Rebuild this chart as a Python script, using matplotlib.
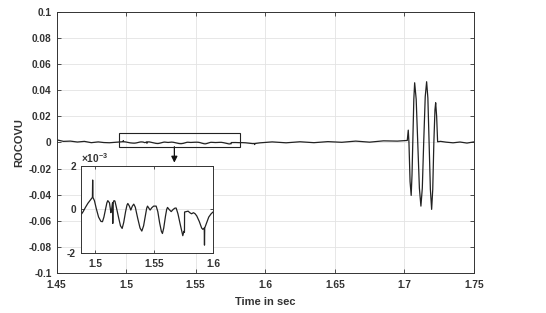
import numpy as np
import matplotlib
matplotlib.use("Agg")
import matplotlib.pyplot as plt
from matplotlib.patches import Rectangle

plt.rcParams['font.family'] = ['Liberation Sans', 'DejaVu Sans']
plt.rcParams['font.weight'] = 'bold'
plt.rcParams['mathtext.default'] = 'regular'

# ---- data ----
t_pre = [1.450, 1.455, 1.460, 1.465, 1.470, 1.475, 1.480, 1.484]
v_pre = [0.0020, 0.0008, 0.0010, 0.0003, 0.0008, -0.0002, 0.0004, -0.0001]

# zoomed segment (values in units of 1e-3)
t_zoom = [1.4880, 1.4900, 1.4920, 1.4940, 1.4960, 1.4978, 1.4980, 1.4982, 1.4995,
          1.5010, 1.5030, 1.5050, 1.5063, 1.5075, 1.5090, 1.5100, 1.5108, 1.5122,
          1.5134, 1.5140, 1.5148, 1.5150, 1.5152, 1.5160, 1.5168, 1.5180, 1.5200,
          1.5215, 1.5229, 1.5242, 1.5258, 1.5270, 1.5277, 1.5290, 1.5302, 1.5315,
          1.5327, 1.5340, 1.5360, 1.5380, 1.5395, 1.5410, 1.5425, 1.5436, 1.5443,
          1.5455, 1.5465, 1.5480, 1.5495, 1.5516, 1.5530, 1.5545, 1.5560, 1.5569,
          1.5580, 1.5595, 1.5605, 1.5612, 1.5625, 1.5643, 1.5660, 1.5675, 1.5685,
          1.5700, 1.5720, 1.5741, 1.5750, 1.5755, 1.5756, 1.5770, 1.5786, 1.5800,
          1.5815, 1.5831, 1.5845, 1.5859, 1.5880, 1.5900, 1.5910, 1.5922, 1.5924,
          1.5926, 1.5940, 1.5960, 1.5980, 1.6000]
v_zoom_e3 = [-0.26, -0.10, 0.10, 0.28, 0.42, 0.55, 1.34, 0.55, 0.40,
             0.05, -0.35, -0.55, -0.56, -0.35, 0.05, 0.30, 0.40, 0.30,
             -0.15, 0.00, 0.30, -0.64, 0.30, 0.40, 0.38, 0.10, -0.40,
             -0.75, -0.87, -0.60, -0.10, 0.20, 0.27, 0.15, -0.03, 0.15,
             0.24, 0.10, -0.40, -0.85, -0.99, -0.75, -0.30, 0.05, 0.15,
             0.05, -0.03, 0.08, 0.15, 0.15, -0.10, -0.60, -1.00, -1.10,
             -0.85, -0.30, 0.00, 0.09, 0.00, -0.10, 0.00, 0.06, 0.06,
             -0.20, -0.70, -1.20, -1.00, -1.05, -0.12, -0.10, -0.08, -0.15,
             -0.20, -0.15, -0.20, -0.30, -0.55, -0.85, -0.91, -0.85, -1.63,
             -0.85, -0.65, -0.35, -0.20, -0.10]

t_post = [1.605, 1.615, 1.625, 1.635, 1.645, 1.655, 1.665, 1.675, 1.685, 1.695,
          1.7021, 1.7028, 1.7033, 1.7041, 1.7049, 1.7055, 1.7061, 1.7068, 1.7074,
          1.7085, 1.7096, 1.7108, 1.7119, 1.7129, 1.7139, 1.7150, 1.7160,
          1.7169, 1.7178, 1.7187, 1.7196, 1.7204, 1.7212, 1.7220, 1.7225,
          1.7232, 1.7239, 1.7260, 1.7300, 1.7350, 1.7400, 1.7450, 1.7500]
v_post = [0.0004, -0.0003, 0.0005, -0.0002, 0.0006, 0.0001, 0.0010, 0.0002, 0.0012, 0.0010,
          0.0015, 0.0094, 0.0000, -0.0300, -0.0406, -0.0250, 0.0020, 0.0330, 0.0457,
          0.0330, 0.0000, -0.0350, -0.0488, -0.0350, 0.0000, 0.0350, 0.0465,
          0.0340, 0.0000, -0.0360, -0.0513, -0.0360, 0.0000, 0.0250, 0.0304,
          0.0200, 0.0005, 0.0008, 0.0002, -0.0003, 0.0003, -0.0005, 0.0004]

x_ticks = [1.45, 1.5, 1.55, 1.6, 1.65, 1.7, 1.75]
y_ticks = [-0.1, -0.08, -0.06, -0.04, -0.02, 0, 0.02, 0.04, 0.06, 0.08, 0.1]
y_tick_labels = ['-0.1', '-0.08', '-0.06', '-0.04', '-0.02', '0', '0.02', '0.04', '0.06', '0.08', '0.1']
inset_x_ticks = [1.5, 1.55, 1.6]
inset_y_ticks_e3 = [-2, 0, 2]

# ---- build series ----
v_zoom = np.array(v_zoom_e3) * 1e-3
t_all = np.concatenate([t_pre, t_zoom, t_post])
v_all = np.concatenate([v_pre, v_zoom, v_post])

fig = plt.figure(figsize=(5.46, 3.13), dpi=100)
ax = fig.add_axes([0.1035, 0.128, 0.7645, 0.834])
ax.plot(t_all, v_all, color='#222222', lw=0.9)
ax.set_xlim(1.45, 1.75)
ax.set_ylim(-0.1, 0.1)
ax.set_xticks(x_ticks)
ax.set_xticklabels([f'{v:g}' for v in x_ticks])
ax.set_yticks(y_ticks)
ax.set_yticklabels(y_tick_labels)
ax.grid(True, color='#e3e3e3', lw=0.6)
ax.set_axisbelow(True)
ax.tick_params(direction='in', length=3, labelsize=7.3, width=0.6, top=True, right=True,
               labeltop=False, labelright=False, colors='#333333')
ax.tick_params(axis='x', pad=5)
for sp in ax.spines.values():
    sp.set_color('#333333')
    sp.set_linewidth(0.7)
ax.set_xlabel('Time in sec', fontsize=8, fontweight='bold', labelpad=5, color='#333333')
ax.set_ylabel('ROCOVU', fontsize=8, fontweight='bold', labelpad=3, color='#333333')

# zoom box and arrow
rect = Rectangle((1.495, -0.0033), 0.087, 0.0107, fill=False, ec='#222222', lw=0.8, zorder=5)
ax.add_patch(rect)
ax.annotate('', xy=(1.5347, -0.0155), xytext=(1.5347, -0.0033),
            arrowprops=dict(arrowstyle='-|>', color='#111111', lw=0.9,
                            mutation_scale=9, shrinkA=0, shrinkB=0))

# inset
axi = fig.add_axes([0.148, 0.191, 0.243, 0.280])
axi.plot(t_all, v_all, color='#222222', lw=0.9)
axi.set_xlim(1.488, 1.6)
axi.set_ylim(-2e-3, 2e-3)
axi.set_xticks(inset_x_ticks)
axi.set_xticklabels([f'{v:g}' for v in inset_x_ticks])
axi.set_yticks(np.array(inset_y_ticks_e3) * 1e-3)
axi.set_yticklabels([str(v) for v in inset_y_ticks_e3])
axi.grid(True, color='#e3e3e3', lw=0.6)
axi.set_axisbelow(True)
axi.tick_params(direction='in', length=2.5, labelsize=7.3, width=0.6, top=True, right=True,
                labeltop=False, labelright=False, colors='#333333')
axi.tick_params(axis='x', pad=4)
for sp in axi.spines.values():
    sp.set_color('#333333')
    sp.set_linewidth(0.7)
axi.text(0.0, 1.01, r'$\times10^{-3}$', transform=axi.transAxes, fontsize=7.3,
         ha='left', va='bottom', color='#333333')

fig.savefig('out.png', dpi=100)
